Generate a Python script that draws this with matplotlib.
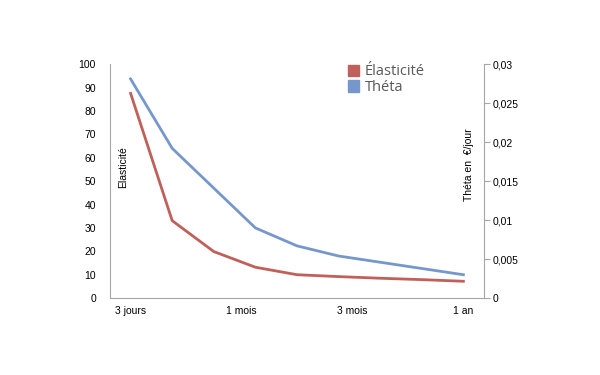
import numpy as np
import matplotlib.pyplot as plt

plt.rcParams['font.family'] = ['Liberation Sans', 'DejaVu Sans']

# échéances (9 points) et libellés affichés
points = np.arange(9)
tick_labels = ['3 jours', '1 mois', '3 mois', '1 an']
tick_pos = np.linspace(0, 8, len(tick_labels))

elasticite = [87.5, 33.1, 19.9, 13.2, 10.0, 9.2, 8.5, 7.9, 7.2]
theta = [0.0281, 0.0192, 0.0141, 0.0090, 0.0067, 0.0054, 0.0046, 0.0038, 0.0030]

red = '#C0605A'
blue = '#7697CC'
grey = '#A6A6A6'

fig = plt.figure(figsize=(6, 3.75), dpi=100)
ax = fig.add_axes([0.183, 0.205, 0.624, 0.624])
ax2 = ax.twinx()

ax.plot(points, elasticite, color=red, lw=2, solid_joinstyle='round')
ax2.plot(points, theta, color=blue, lw=2, solid_joinstyle='round')

ax.set_xlim(-0.5, 8.5)
ax.set_ylim(0, 100)
ax2.set_ylim(0, 0.03)
ax.set_yticks(np.arange(0, 101, 10))
ax2.set_yticks(np.arange(0, 0.0301, 0.005))
ax2.set_yticklabels(['0', '0,005', '0,01', '0,015', '0,02', '0,025', '0,03'])
ax.set_xticks(tick_pos)
ax.set_xticklabels(tick_labels)

for a in (ax, ax2):
    a.spines['top'].set_visible(False)
    for s in a.spines.values():
        s.set_color(grey)
ax.spines['right'].set_visible(False)
ax2.spines['left'].set_visible(False)
ax2.spines['bottom'].set_visible(False)

ax.tick_params(axis='both', length=0, labelsize=7.5, pad=6)
ax.tick_params(axis='y', pad=10)
ax2.tick_params(axis='y', length=4, color=grey, labelsize=7.5, pad=2)

ax.text(0.035, 0.56, 'Elasticité', transform=ax.transAxes, rotation=90,
        ha='center', va='center', fontsize=7.5)
ax2.text(0.96, 0.57, 'Théta en  €/jour', transform=ax2.transAxes, rotation=90,
         ha='center', va='center', fontsize=7.5)

handles = [plt.Rectangle((0, 0), 1, 1, color=red), plt.Rectangle((0, 0), 1, 1, color=blue)]
leg = ax2.legend(handles, ['Élasticité', 'Théta'], loc='upper left',
                 bbox_to_anchor=(0.6, 1.055), frameon=False,
                 handlelength=0.8, handleheight=0.8, handletextpad=0.4,
                 labelspacing=0.05, prop={'family': 'Open Sans', 'size': 10.5})
for t in leg.get_texts():
    t.set_color('#595959')

fig.savefig('out.png', dpi=100)
